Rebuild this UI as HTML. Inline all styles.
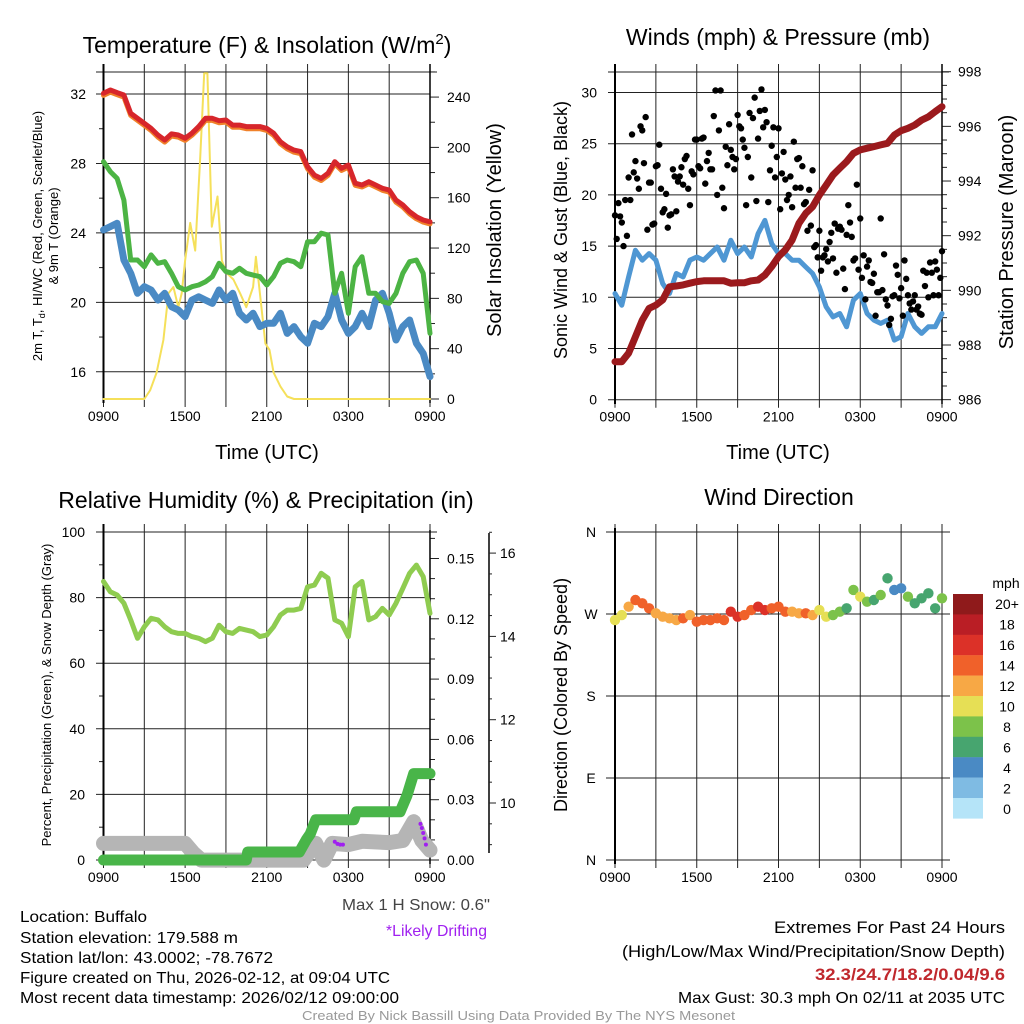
<!DOCTYPE html>
<html><head><meta charset="utf-8"><style>
html,body{margin:0;padding:0;background:#fff}
svg{display:block;font-family:"Liberation Sans",Arial,sans-serif}
</style></head><body>
<svg id="root" width="1024" height="1024" viewBox="0 0 1024 1024" xmlns="http://www.w3.org/2000/svg">
<rect x="0" y="0" width="1024" height="1024" fill="#fff"/>
<g id="p1"></g>
<g id="p2"></g>
<g id="p3"></g>
<g id="p4"></g>
<g id="texts">
<text x="267" y="53" font-size="23" text-anchor="middle">Temperature (F) &amp; Insolation (W/m<tspan dy="-9" font-size="15">2</tspan><tspan dy="9">)</tspan></text>
<text x="778" y="45" font-size="23" text-anchor="middle">Winds (mph) &amp; Pressure (mb)</text>
<text x="266" y="508" font-size="23" text-anchor="middle">Relative Humidity (%) &amp; Precipitation (in)</text>
<text x="779" y="505" font-size="23" text-anchor="middle">Wind Direction</text>
<text x="267" y="459" font-size="20" text-anchor="middle">Time (UTC)</text>
<text x="778" y="459" font-size="20" text-anchor="middle">Time (UTC)</text>
<text transform="translate(42,236) rotate(-90)" font-size="13" text-anchor="middle">2m T, T<tspan dy="3" font-size="9">d</tspan><tspan dy="-3">, HI/WC (Red, Green, Scarlet/Blue)</tspan></text>
<text transform="translate(58,236) rotate(-90)" font-size="13" text-anchor="middle">&amp; 9m T (Orange)</text>
<text transform="translate(501,230) rotate(-90)" font-size="20" text-anchor="middle">Solar Insolation (Yellow)</text>
<text transform="translate(567,230) rotate(-90)" font-size="18" text-anchor="middle">Sonic Wind &amp; Gust (Blue, Black)</text>
<text transform="translate(1013,232) rotate(-90)" font-size="20" text-anchor="middle">Station Pressure (Maroon)</text>
<text transform="translate(51,695) rotate(-90)" font-size="13" text-anchor="middle">Percent, Precipitation (Green), &amp; Snow Depth (Gray)</text>
<text transform="translate(567,695) rotate(-90)" font-size="18" text-anchor="middle">Direction (Colored By Speed)</text>
<text x="342" y="910" font-size="16" fill="#444" textLength="148" lengthAdjust="spacingAndGlyphs">Max 1 H Snow: 0.6"</text>
<text x="386" y="936" font-size="16" fill="#a020f0" textLength="101" lengthAdjust="spacingAndGlyphs">*Likely Drifting</text>
<text x="20" y="922" font-size="16" textLength="127" lengthAdjust="spacingAndGlyphs">Location: Buffalo</text>
<text x="20" y="943" font-size="16" textLength="218" lengthAdjust="spacingAndGlyphs">Station elevation: 179.588 m</text>
<text x="20" y="963" font-size="16" textLength="253" lengthAdjust="spacingAndGlyphs">Station lat/lon: 43.0002; -78.7672</text>
<text x="20" y="983" font-size="16" textLength="370" lengthAdjust="spacingAndGlyphs">Figure created on Thu, 2026-02-12, at 09:04 UTC</text>
<text x="20" y="1003" font-size="16" textLength="379" lengthAdjust="spacingAndGlyphs">Most recent data timestamp: 2026/02/12 09:00:00</text>
<text x="774" y="933" font-size="17" textLength="231" lengthAdjust="spacingAndGlyphs">Extremes For Past 24 Hours</text>
<text x="622" y="957" font-size="17" textLength="383" lengthAdjust="spacingAndGlyphs">(High/Low/Max Wind/Precipitation/Snow Depth)</text>
<text x="815" y="980" font-size="17" font-weight="bold" fill="#c0282d" textLength="190" lengthAdjust="spacingAndGlyphs">32.3/24.7/18.2/0.04/9.6</text>
<text x="678" y="1003" font-size="16" textLength="327" lengthAdjust="spacingAndGlyphs">Max Gust: 30.3 mph On 02/11 at 2035 UTC</text>
<text x="302" y="1020" font-size="13" fill="#999" textLength="433" lengthAdjust="spacingAndGlyphs">Created By Nick Bassill Using Data Provided By The NYS Mesonet</text>
</g>
</svg>
<script>
// ---------- data ----------
const xTickLabels = ['0900','1500','2100','0300','0900'];
const tempTicks = [16,20,24,28,32];
const insolTicks = [0,40,80,120,160,200,240];
const windTicks = [0,5,10,15,20,25,30];
const presTicks = [986,988,990,992,994,996,998];
const rhTicks = [0,20,40,60,80,100];
const precipTicks = [0.00,0.03,0.06,0.09,0.12,0.15];
const snowTicks = [10,12,14,16];
const dirTicks = ['N','E','S','W','N'];
const speedBins = ['0','2','4','6','8','10','12','14','16','18','20+'];
const speedColors = ['#b5e4f8','#7fbbe3','#4a8ac4','#47a56f','#7cc24a','#e6df55','#f7a845','#f0612a','#dc3128','#ba1e25','#8f1a1b'];

// half-hourly series (49 values, 0900 -> 0900)
const tempRed = [32.04,32.23,32.08,31.94,30.89,30.60,30.31,30.02,29.64,29.35,29.70,29.64,29.45,29.74,30.12,30.60,30.60,30.46,30.50,30.21,30.21,30.12,30.12,30.12,30.02,29.74,29.25,28.96,28.77,28.68,27.81,27.33,27.14,27.43,28.10,27.72,27.91,26.86,26.76,26.95,26.76,26.57,26.47,25.89,25.61,25.22,24.93,24.74,24.64];
const tempGreen = [28.10,27.53,27.14,25.89,22.44,22.44,22.05,22.73,22.25,22.34,21.67,20.90,20.71,20.90,21.00,21.19,21.48,22.25,21.77,21.67,21.96,21.67,21.57,21.48,21.00,21.48,22.25,22.44,22.34,22.05,23.49,23.49,23.98,23.88,20.52,21.67,19.37,22.05,22.63,20.52,20.52,20.04,19.94,20.52,21.67,22.34,22.44,21.67,18.21];
const tempBlue = [24.17,24.36,24.55,22.44,21.67,20.52,20.90,20.71,20.13,20.52,19.75,19.56,19.17,20.13,20.32,20.13,19.94,20.71,20.13,20.52,19.37,18.98,19.37,18.60,18.79,18.79,19.37,18.21,18.60,18.02,17.64,18.79,18.60,19.17,20.52,18.98,18.21,18.60,19.37,18.60,20.13,20.52,19.37,17.83,18.60,18.98,17.64,17.06,15.72];
const insolHours = [0,3,3.43,3.9,4.4,4.78,5.14,5.5,5.75,6.0,6.37,6.74,7.1,7.4,7.64,7.96,8.38,8.7,9.06,9.55,10.04,10.5,11.0,11.2,11.5,11.9,12.2,12.5,13.0,13.5,14.0,24];
const insolValues = [0,0,7,21,47,84,89,73,84,110,140,118,190,259,259,137,161,110,100,95,84,73,89,113,84,44,39,21,10,2,0,0];

const windSpeed = [10.37,9.23,11.99,14.59,13.62,14.27,13.62,11.34,10.37,12.32,11.99,13.62,13.94,13.62,14.27,14.91,13.62,15.57,14.27,14.91,13.94,16.22,17.51,15.24,14.27,14.27,13.62,13.62,12.96,12.32,11.01,9.06,8.09,8.42,7.12,9.72,10.37,8.42,7.77,7.45,7.77,5.82,6.14,8.42,7.12,6.47,7.12,7.12,8.42];
const pressure = [987.39,987.39,987.70,988.30,988.91,989.34,989.46,989.65,990.13,990.16,990.20,990.26,990.32,990.35,990.35,990.35,990.35,990.26,990.28,990.28,990.35,990.38,990.56,990.87,991.23,991.48,991.84,992.45,992.82,993.06,993.49,993.85,994.22,994.47,994.71,995.01,995.14,995.20,995.26,995.32,995.38,995.68,995.84,995.93,996.05,996.23,996.35,996.54,996.72];
// gusts every 15 min
const gustA = [18,19.2,17.3,19.5, 21.7,25.9,23.3,20.6, 26.3,27.6,21.2,17.1, 22.8,24.9,18.3,20.1, 18,22.5,18.4,21.8, 21,23.8,19,22, 25.4,22.6,25.6,23.3, 22.5,27.7,20,30.2, 18.7,22.9,24.4,22.5, 27.8,26.5,24.6,23.7, 21.7,29.5,25.5,30.3, 28.3,19.3,24.8,21.7, 26.5,22.1,21.5,20, 18.8,20.7,23.6,22.8, 19.3,20.5,22.4,15.1, 16.5,13.9,14.7,15.4, 13.8,12.4,16.9,12.8, 16.1,17.3,13.6,21, 17.7,14.1,13,11.5, 12.3,10.5,17.7,14.2, 9.2,7.9,10.2,12.2, 10.9,13.6,10.2,8.8, 10.2,9.1,8.3,11.1, 10,12.4,13.5,10.2, 14.5];
const gustB = [15.7,17.9,15,16, 19.5,22.2,21.6,26.7, 23.1,16.6,21.2,17.2, 22.9,20.6,18.6,16.8, 18.1,21.8,21.3,22.7, 23.5,20.6,22.3,25.4, 22.8,25.5,21.1,24.1, 22.5,30.2,26.3,20.7, 24.7,26.9,23.7,23.5, 26.7,25.4,19,28, 27.5,19.4,28.2,26.6, 27.1,22.4,26.6,23.7, 18.6,24.2,19.5,21.8, 25.2,23.5,20.7,19.1, 16.5,17,14.9,13.9, 12.6,14.1,13.5,16.3, 17.2,16.7,16.6,10.8, 19,15.9,13.8,12.7, 11.9,9.8,13.6,11.4, 8.2,10.5,10.7,9.8, 7.3,10.1,13.1,9.9, 8.2,11.8,9.4,9.6, 8.8,8.4,12.6,12.4, 13.4,10.2,12.7,11.9];

const relHum = [84.9,81.8,80.8,78.3,73.2,67.6,71.1,73.7,73.2,71.1,69.6,69.1,69.1,68.1,67.6,66.6,67.6,71.6,69.6,69.1,70.6,70.1,69.6,68.1,68.6,71.1,74.7,76.2,76.2,76.7,83.3,83.8,87.4,85.9,73.2,72.2,68.1,83.3,84.9,73.2,74.2,76.7,74.7,78.3,82.8,87.4,89.9,86.4,75.2];
const precipHours = [0,10.5,10.6,14.4,14.9,15.2,15.6,18.4,18.6,21.8,22.3,22.8,24];
const precipValues = [0,0,0.004,0.004,0.01,0.013,0.02,0.02,0.024,0.024,0.032,0.043,0.043];
const snowHours = [0,6,6.6,7.2,14.7,15.2,15.6,16.2,16.8,18,19,21,22,22.8,23.4,24];
const snowValues = [9.03,9.03,8.8,8.63,8.63,8.87,9.03,8.63,9.03,9.0,9.08,9.05,9.1,9.55,9.1,8.87];
const driftHours = [17.0,17.2,17.4,17.6,23.3,23.4,23.5,23.6,23.7];
const driftValues = [9.07,9.02,9.0,9.0,9.5,9.4,9.28,9.15,9.0];

const windDir = [263.4,268.9,278.1,285.4,281.8,276.3,270.8,267.1,265.3,263.4,265.3,268.9,261.6,263.4,263.4,265.3,263.4,272.6,267.1,268.9,274.4,278.1,274.4,276.3,278.1,272.6,272.6,270.8,270.8,268.9,274.4,267.1,268.9,272.6,276.3,296.4,289.0,283.5,285.4,290.9,309.2,296.4,298.2,289.0,281.8,287.3,292.7,276.3,287.3];
const dirSpeed = [10,10,13,14,14,14,12,13,12,12,14,12,14,14,14,15,14,16,16,14,15,16,16,15,14,14,12,12,14,12,11,10,8,9,6,9,10,8,7,8,6,5,4,8,6,6,6,6,8];

// ---------- helpers ----------
const NS='http://www.w3.org/2000/svg';
function mk(parent, tag, attrs){const e=document.createElementNS(NS,tag);for(const k in attrs)e.setAttribute(k,attrs[k]);parent.appendChild(e);return e;}
function pathD(xs, ys){return xs.map((x,i)=>(i?'L':'M')+x.toFixed(1)+','+ys[i].toFixed(1)).join('');}
const halfHours = tempRed.map((_,i)=>i*0.5);

// axis functions
const xL = h => 103.5 + h/24*326.5;
const xR = h => 615 + h/24*327;
const yTemp = t => 94 + (32-t)*17.36;
const yInsol = w => 399 - w*1.258;
const yWind = v => 399.7 - v*10.24;
const yPres = p => 71.7 + (998-p)*27.33;
const yRH = v => 860 - v*3.28;
const yPrecip = v => 860 - v*2010;
const ySnow = v => 803 - (v-10)*41.65;
const yDir = d => 860 - d*0.911;

function frame(g, x0, x1, yTop, yBot){
  for(let i=0;i<=8;i++){
    const x = x0 + (x1-x0)*i/8;
    const l = mk(g,'line',{x1:x,x2:x,y1:yTop-4,y2:yBot+8,stroke:'#222','stroke-width':1});
    
    
  }
  for(let i=0;i<5;i++){
    const x = x0 + (x1-x0)*i/4;
    const t = mk(g,'text',{x:x,y:yBot+22,'font-size':14,'text-anchor':'middle'});
    t.textContent = xTickLabels[i];
    
    
  }
}
function hline(g,x0,x1,y,name){
  const l=mk(g,'line',{x1:x0,x2:x1,y1:y,y2:y,stroke:'#222','stroke-width':1});
  
  
}
function label(g,x,y,txt,anchor,name,size){
  const t=mk(g,'text',{x:x,y:y,'font-size':size||14,'text-anchor':anchor});
  t.textContent=txt;
  
  
}
function line(g,d,color,w,name){
  const p=mk(g,'path',{d:d,fill:'none',stroke:color,'stroke-width':w,'stroke-linejoin':'round','stroke-linecap':'round'});
  
  
}

// ---------- panel 1 ----------
(function(){
  const g=document.getElementById('p1');
  frame(g,103.5,430,68,399);
  hline(g,96,437,72,'top-frame');
  tempTicks.forEach(t=>{hline(g,96,430,yTemp(t),'temp-gridline');label(g,86,yTemp(t)+5,String(t),'end','temp-tick-label');});
  for(let t=18;t<=30;t+=4){hline(g,99,103.5,yTemp(t),'temp-minor-tick');}
  for(let w=0;w<=260;w+=20){hline(g,430,w%40===0?439:435,yInsol(w),'insol-tick');}
  insolTicks.forEach(w=>label(g,447,yInsol(w)+5,String(w),'start','insol-tick-label'));
  const ax=mk(g,'line',{x1:103.5,x2:103.5,y1:64,y2:403,stroke:'#000','stroke-width':2});
  
  
  const ax2=mk(g,'line',{x1:430,x2:430,y1:64,y2:403,stroke:'#000','stroke-width':1.5});
  
  
  const xs=halfHours.map(xL);
  line(g,pathD(insolHours.map(xL),insolValues.map(yInsol)),'#f5e05a',2,'insolation-line');
  line(g,pathD(xs,tempBlue.map(yTemp)),'#4a8ac4',7,'windchill-blue-line');
  line(g,pathD(xs,tempGreen.map(yTemp)),'#4cb444',5,'dewpoint-green-line');
  line(g,pathD(xs,tempRed.map(t=>yTemp(t-0.12))),'#f0812a',5,'temp-9m-orange-line');
  line(g,pathD(xs,tempRed.map(yTemp)),'#d7262b',5,'temp-2m-red-line');
})();

// ---------- panel 2 ----------
(function(){
  const g=document.getElementById('p2');
  frame(g,615,942,68,399.7);
  hline(g,608,949,72,'top-frame');
  windTicks.forEach(v=>{hline(g,608,942,yWind(v),'wind-gridline');label(g,597,yWind(v)+5,String(v),'end','wind-tick-label');});
  for(let p=986;p<=998;p+=0.5){hline(g,942,(p%2===0)?951:947,yPres(p),'pressure-tick');}
  presTicks.forEach(p=>label(g,958,yPres(p)+5,String(p),'start','pressure-tick-label'));
  const ax=mk(g,'line',{x1:615,x2:615,y1:64,y2:404,stroke:'#000','stroke-width':2});
  
  
  const ax2=mk(g,'line',{x1:942,x2:942,y1:64,y2:404,stroke:'#000','stroke-width':1.5});
  
  
  const xs=halfHours.map(xR);
  line(g,pathD(xs,windSpeed.map(yWind)),'#4f97d3',5,'sonic-wind-line');
  gustA.forEach((v,i)=>{const c=mk(g,'circle',{cx:xR(i*0.25),cy:yWind(v),r:3.2,fill:'#000'});
    
    });
  gustB.forEach((v,i)=>{const c=mk(g,'circle',{cx:xR(i*0.25+0.125),cy:yWind(v),r:3.2,fill:'#000'});
    
    });
  line(g,pathD(xs,pressure.map(yPres)),'#9b1a1d',7,'pressure-line');
})();

// ---------- panel 3 ----------
(function(){
  const g=document.getElementById('p3');
  frame(g,103.5,430,528,860);
  hline(g,96,437,532,'top-frame');
  rhTicks.forEach(v=>{hline(g,96,430,yRH(v),'rh-gridline');label(g,85,yRH(v)+5,String(v),'end','rh-tick-label');});
  for(let v=10;v<=90;v+=20){hline(g,99,103.5,yRH(v),'rh-minor-tick');}
  for(let p=0;p<=0.16;p+=0.01){hline(g,430,(Math.round(p*100)%3===0)?439:435,yPrecip(p),'precip-tick');}
  precipTicks.forEach(p=>label(g,447,yPrecip(p)+5,p.toFixed(2),'start','precip-tick-label'));
  const ax=mk(g,'line',{x1:103.5,x2:103.5,y1:524,y2:864,stroke:'#000','stroke-width':2});
  
  
  const ax2=mk(g,'line',{x1:430,x2:430,y1:530,y2:864,stroke:'#000','stroke-width':1.5});
  
  
  const ax3=mk(g,'line',{x1:489,x2:489,y1:533,y2:853,stroke:'#000','stroke-width':1.5});
  
  
  for(let s=9;s<=16.5;s+=0.5){hline(g,489,(s%2===0)?496:492,ySnow(s),'snow-tick');}
  snowTicks.forEach(s=>label(g,500,ySnow(s)+5,String(s),'start','snow-tick-label'));
  line(g,pathD(snowHours.map(xL),snowValues.map(ySnow)),'#b5b5b5',15,'snow-depth-line');
  line(g,pathD(precipHours.map(xL),precipValues.map(yPrecip)),'#49b549',11,'precip-line');
  line(g,pathD(halfHours.map(xL),relHum.map(yRH)),'#8fcc50',5,'rh-line');
  driftHours.forEach((h,i)=>{const c=mk(g,'circle',{cx:xL(h),cy:ySnow(driftValues[i]),r:2,fill:'#a020f0'});
    
    });
})();

// ---------- panel 4 ----------
(function(){
  const g=document.getElementById('p4');
  frame(g,615,942,528,860);
  [0,90,180,270,360].forEach((d,i)=>{hline(g,606,950,yDir(d),'direction-gridline');label(g,591,yDir(d)+5,dirTicks[i],'middle','direction-tick-label');});
  const ax=mk(g,'line',{x1:615,x2:615,y1:528,y2:864,stroke:'#000','stroke-width':2});
  
  
  windDir.forEach((d,i)=>{
    const k=Math.min(10,Math.floor(dirSpeed[i]/2));
    const c=mk(g,'circle',{cx:xR(i*0.5),cy:yDir(d),r:5.2,fill:speedColors[k]});
    
    
  });
  label(g,1006,588,'mph','middle','colorbar-title',14);
  for(let i=0;i<11;i++){
    const idx=10-i;
    const r=mk(g,'rect',{x:953,y:594+i*20.4,width:30,height:20.6,fill:speedColors[idx]});
    
    
    label(g,1007,609+i*20.5,speedBins[idx],'middle','colorbar-label',14);
  }
})();
</script>
</body></html>
